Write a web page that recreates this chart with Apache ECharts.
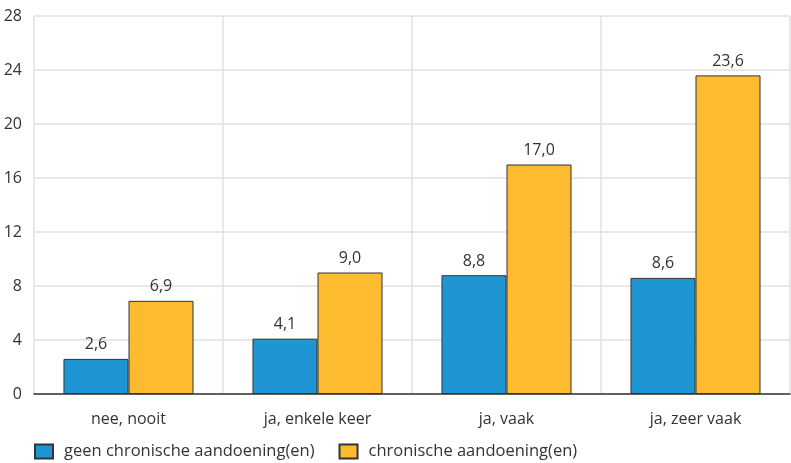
<!DOCTYPE html>
<html>
<head>
<meta charset="utf-8">
<script src="https://cdn.jsdelivr.net/npm/echarts@6/dist/echarts.min.js"></script>
<style>
  html, body { margin: 0; padding: 0; background: #fff; }
  #chart { width: 791px; height: 463px; }
</style>
</head>
<body>
<div id="chart"></div>
<script>
// Categories and series values
const categories = ['nee, nooit', 'ja, enkele keer', 'ja, vaak', 'ja, zeer vaak'];
const geenChronisch = [2.6, 4.1, 8.8, 8.6];
const chronisch = [6.9, 9.0, 17.0, 23.6];
const seriesNames = ['geen chronische aandoening(en)', 'chronische aandoening(en)'];

const fontFamily = '"Open Sans", "Noto Sans", sans-serif';
const textColor = '#333';

const fmt = v => v.toFixed(1).replace('.', ',');

const chart = echarts.init(document.getElementById('chart'));
chart.setOption({
  animation: false,
  textStyle: { fontFamily: fontFamily },
  grid: { left: 34, right: 1, top: 16, bottom: 69, containLabel: false },
  legend: {
    left: 29,
    top: 438,
    itemWidth: 18,
    itemHeight: 14,
    itemGap: 24,
    icon: 'rect',
    textStyle: { fontSize: 16.5, color: textColor, fontFamily: fontFamily, padding: [0, 0, 0, 6] },
    data: seriesNames
  },
  xAxis: {
    type: 'category',
    data: categories,
    axisLine: { lineStyle: { color: '#333', width: 1.5 } },
    axisTick: { alignWithLabel: true, length: 8, lineStyle: { color: '#333' } },
    axisLabel: { fontSize: 16, color: textColor, margin: 17 },
    splitLine: { show: true, lineStyle: { color: '#e0e0e0', width: 1.5 } }
  },
  yAxis: {
    type: 'value',
    min: 0,
    max: 28,
    interval: 4,
    axisLine: { show: false },
    axisTick: { show: false },
    axisLabel: { fontSize: 16, color: textColor, margin: 12 },
    splitLine: { lineStyle: { color: '#e0e0e0', width: 1.5 } }
  },
  series: [
    {
      name: seriesNames[0],
      type: 'bar',
      data: geenChronisch,
      barWidth: '34.4%',
      barGap: '0%',
      itemStyle: { color: '#1f95d3', borderColor: '#333', borderWidth: 1 },
      label: {
        show: true, position: 'top', distance: 6,
        fontSize: 16, color: textColor,
        formatter: p => fmt(p.value)
      }
    },
    {
      name: seriesNames[1],
      type: 'bar',
      data: chronisch,
      barWidth: '34.4%',
      barGap: '0%',
      itemStyle: { color: '#fdbb30', borderColor: '#333', borderWidth: 1 },
      label: {
        show: true, position: 'top', distance: 6,
        fontSize: 16, color: textColor,
        formatter: p => fmt(p.value)
      }
    }
  ]
});
</script>
</body>
</html>
